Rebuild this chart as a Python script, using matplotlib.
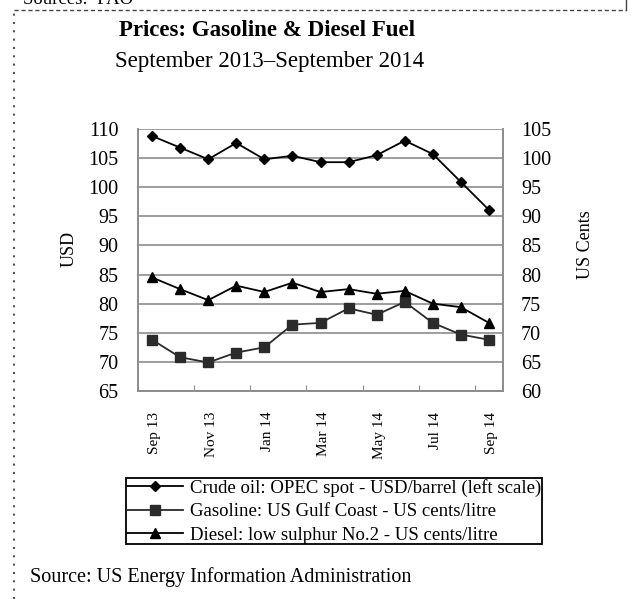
import numpy as np
import matplotlib.pyplot as plt
from matplotlib.lines import Line2D

plt.rcParams['font.family'] = ['Liberation Serif', 'DejaVu Serif']

# Monthly prices, Sep 2013 - Sep 2014
months = ['Sep 13', 'Oct 13', 'Nov 13', 'Dec 13', 'Jan 14', 'Feb 14', 'Mar 14',
          'Apr 14', 'May 14', 'Jun 14', 'Jul 14', 'Aug 14', 'Sep 14']
crude = [108.8, 106.8, 104.8, 107.6, 104.8, 105.4, 104.3, 104.3, 105.5, 108.0,
         105.7, 100.9, 96.1]
gasoline = [68.8, 65.8, 64.9, 66.6, 67.5, 71.4, 71.7, 74.2, 73.1, 75.3, 71.7,
            69.7, 68.8]
diesel = [79.5, 77.5, 75.6, 78.1, 77.0, 78.6, 77.0, 77.5, 76.7, 77.2, 75.0,
          74.4, 71.7]

left_ticks = [65, 70, 75, 80, 85, 90, 95, 100, 105, 110]
right_ticks = [60, 65, 70, 75, 80, 85, 90, 95, 100, 105]

W, H = 632, 599
fig = plt.figure(figsize=(W / 100, H / 100), dpi=100)
ax = fig.add_axes([138 / W, 1 - 391 / H, 365 / W, 262 / H])
ax2 = ax.twinx()

x = np.arange(len(months))
grey = '#8c8c8c'

l1, = ax.plot(x, crude, color='black', lw=1.3, marker='D', ms=5.5,
              label='Crude oil: OPEC spot - USD/barrel (left scale)')
l2, = ax2.plot(x, gasoline, color='#2b2b2b', lw=1.3, marker='s', ms=7,
               label='Gasoline: US Gulf Coast - US cents/litre')
l3, = ax2.plot(x, diesel, color='black', lw=1.3, marker='^', ms=7,
               label='Diesel: low sulphur No.2 - US cents/litre')

ax.set_xlim(-0.5, len(months) - 0.5)
ax.set_ylim(65, 110)
ax2.set_ylim(60, 105)
ax.set_yticks(left_ticks)
ax2.set_yticks(right_ticks)
ax.yaxis.grid(True, color=grey, lw=1.2)
ax.set_axisbelow(True)

# category axis: ticks between categories, labels every second month
ax.set_xticks(np.arange(-0.5, len(months) - 1, 2))
ax.set_xticklabels([])
ax.set_xticks(x[::2] + 0.1, minor=True)
ax.set_xticklabels(months[::2], minor=True, rotation=90, fontsize=11)
ax.tick_params(axis='x', which='minor', length=0, pad=15)
ax.tick_params(axis='x', which='major', direction='in', length=4, color=grey)

for a in (ax, ax2):
    a.spines['top'].set_visible(False)
    for s in ('left', 'right', 'bottom'):
        a.spines[s].set_color(grey)
        a.spines[s].set_linewidth(1.2)
    a.tick_params(axis='y', length=0, labelsize=14.5, pad=14)
ax2.tick_params(axis='y', pad=13)

ax.set_ylabel('USD', fontsize=13)
ax.yaxis.set_label_coords(-0.164, 0.542)
ax2.set_ylabel('US Cents', fontsize=13)
ax2.yaxis.set_label_coords(1.203, 0.557)

fig.text(267 / W, 1 - 30 / H, 'Prices: Gasoline & Diesel Fuel', ha='center',
         va='center', fontsize=16.5, fontweight='bold')
fig.text(270 / W, 1 - 61 / H, 'September 2013\u2013September 2014', ha='center',
         va='center', fontsize=16.5)

leg = fig.legend(handles=[l1, l2, l3], loc='upper left',
                 bbox_to_anchor=(126 / W, 1 - 478 / H), fontsize=13.5,
                 fancybox=False, edgecolor='black', framealpha=1,
                 borderpad=0.05, labelspacing=0.33, handlelength=3.0,
                 handletextpad=0.35, borderaxespad=0)
leg.get_frame().set_linewidth(1.3)

fig.text(30 / W, 1 - 577 / H, 'Source: US Energy Information Administration',
         ha='left', va='center', fontsize=14.5)

# surrounding page borders
fig.add_artist(Line2D([14 / W, 626 / W], [1 - 10 / H, 1 - 10 / H], color='#444444',
                      lw=1, ls=(0, (3, 2))))
fig.add_artist(Line2D([626 / W, 626 / W], [1 - 10 / H, 1], color='#444444', lw=1))
fig.add_artist(Line2D([14 / W, 14 / W], [0, 1 - 10 / H], color='#555555',
                      lw=1.5, ls=(0, (1, 3))))
fig.text(23 / W, 1 - 4 / H, 'Sources:  FAO', ha='left', va='baseline', fontsize=13.5)

fig.savefig('out.png', dpi=100)
